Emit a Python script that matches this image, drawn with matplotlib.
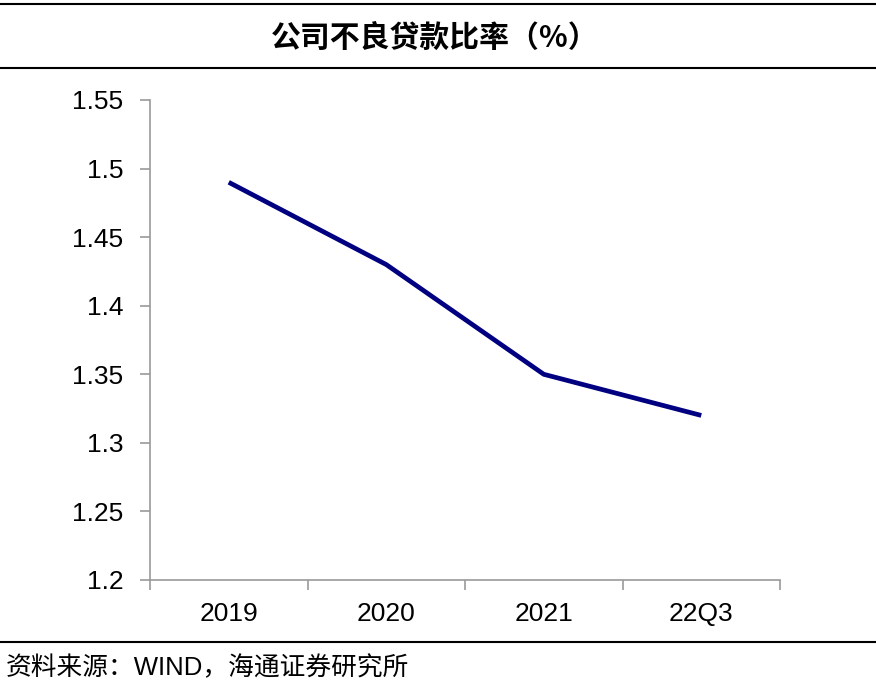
import matplotlib
matplotlib.use("Agg")
import matplotlib.pyplot as plt
from matplotlib.lines import Line2D

plt.rcParams['font.family'] = ['Liberation Sans', 'Noto Sans CJK SC', 'DejaVu Sans']

# data
categories = ["2019", "2020", "2021", "22Q3"]
npl_ratio = [1.49, 1.43, 1.35, 1.32]
y_ticks = [1.2, 1.25, 1.3, 1.35, 1.4, 1.45, 1.5, 1.55]
y_tick_labels = ["1.2", "1.25", "1.3", "1.35", "1.4", "1.45", "1.5", "1.55"]
title = "公司不良贷款比率（%）"
source = "资料来源：WIND，海通证券研究所"

W, H = 876, 690
fig = plt.figure(figsize=(W / 100, H / 100), dpi=100)
ax = fig.add_axes([150 / W, 1 - 580 / H, 630 / W, 480 / H])

x = list(range(len(categories)))
ax.plot(x, npl_ratio, color="#000080", linewidth=3.4, solid_capstyle="butt")

ax.set_xlim(-0.5, len(categories) - 0.5)
ax.set_ylim(1.2, 1.55)
ax.set_yticks(y_ticks)
ax.set_yticklabels(y_tick_labels)
# category ticks sit between the categories
ax.set_xticks([i - 0.5 for i in range(len(categories) + 1)])
ax.set_xticklabels([])
ax.set_xticks(x, minor=True)
ax.set_xticklabels(categories, minor=True)
ax.tick_params(axis="x", which="minor", length=0, pad=16, labelsize=19)
ax.tick_params(axis="x", which="major", length=7, direction="out", color="#999999", width=1.2)
ax.tick_params(axis="y", length=7, direction="out", color="#999999", width=1.2, pad=12, labelsize=19)

for side in ["top", "right"]:
    ax.spines[side].set_visible(False)
for side in ["left", "bottom"]:
    ax.spines[side].set_color("#999999")
    ax.spines[side].set_linewidth(1.2)

# title band and rules
fig.text(435 / W, 1 - 38 / H, title, ha="center", va="center", fontsize=21.5,
         fontweight="bold", family=['Noto Sans CJK SC', 'DejaVu Sans'])
for yy in [4, 68, 642]:
    fig.add_artist(Line2D([0, 1], [1 - yy / H, 1 - yy / H], color="black", linewidth=1.5))

fig.text(6 / W, 1 - 668 / H, source, ha="left", va="center", fontsize=18.5,
         family=['Liberation Sans', 'Noto Sans CJK SC', 'DejaVu Sans'])

fig.savefig("out.png", dpi=100)
